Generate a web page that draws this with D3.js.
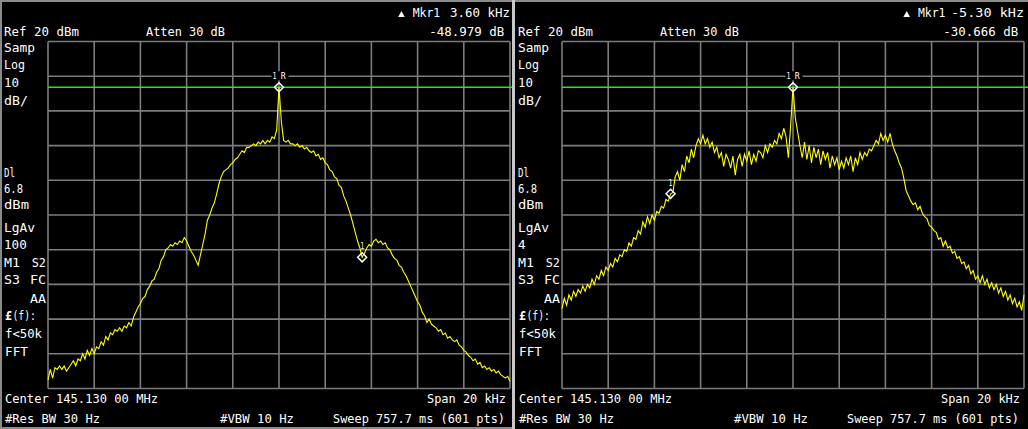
<!DOCTYPE html>
<html><head><meta charset="utf-8">
<script src="https://cdn.jsdelivr.net/npm/d3@7"></script>
<style>html,body{margin:0;padding:0;background:#000;}svg{display:block}</style>
</head><body><svg id="c" width="1028" height="429"></svg>
<script>
// ---- data (dBm readings, one every 0.1 kHz from -10 to +10 kHz) ----
const F_START = -10, F_STEP = 0.1;
const freqGridKHz = [-10,-8,-6,-4,-2,0,2,4,6,8,10];
const levelGridDbm = [20,10,0,-10,-20,-30,-40,-50,-60,-70,-80];
const displayLineDbm = 6.8;

const leftTrace = [
-77.5,-74.5,-77,-74,-74.5,-73.5,-74.5,-73.5,-75,-74,
-73,-72,-73.5,-71.5,-72,-70,-71.5,-69,-70.5,-68.5,
-70,-68,-68.5,-66.5,-67.5,-65,-66,-64,-64.5,-63,
-63.5,-62.5,-63.5,-62,-62.5,-61,-62,-59.5,-58,-56.5,
-55.5,-54,-53.5,-51.5,-50.5,-49,-48.5,-46.5,-45.5,-43,
-42,-40,-39.5,-38.5,-39,-38,-38.5,-37.5,-38,-36.5,
-37.5,-39,-40.5,-41.5,-43,-44.5,-41.5,-38.5,-35.5,-31.5,
-30,-28,-26.5,-24,-21,-19,-17.5,-17,-16.5,-15.5,
-15,-14,-13.5,-12.5,-11.5,-12,-10.5,-10.5,-10,-9.5,
-10,-9,-9.5,-8.5,-9.5,-8.5,-9,-7.5,-8,-5.5,
6.8,-3,-8.5,-9,-8.5,-9.5,-9.5,-10,-9.5,-10.5,
-10,-11,-10.5,-11.5,-12,-11.5,-13,-12.5,-14,-13.5,
-15,-15.5,-17,-17.5,-19,-19.5,-21.5,-22,-24.5,-26,
-28,-30,-32.5,-35,-37.5,-39.5,-42.2,-41,-39.5,-38.5,
-39,-37.5,-37,-38,-37.5,-38.5,-38,-39.5,-40,-41.5,
-42.5,-43,-44.5,-45,-46.5,-47.5,-49,-50.5,-52,-53.5,
-55,-56,-58,-59,-61,-60,-61.5,-62,-62.5,-63.5,
-63,-64.5,-64,-65.5,-65,-66,-66.5,-66,-67.5,-68,
-69,-69.5,-70.5,-71,-72,-71.5,-73,-72.5,-74,-73.5,
-74.5,-74,-75,-74.5,-75.5,-75,-76,-76.5,-77,-76.5,
-78];

const rightTrace = [
-57,-54,-56,-53,-54.5,-52,-53.5,-51.5,-52.5,-50.5,
-52,-50,-51,-48.5,-50,-47.5,-48.5,-46,-47.5,-45,
-46,-44,-45,-42.5,-43.5,-41.5,-42,-40,-40.5,-38,
-39,-36.5,-37,-34.5,-35.5,-32,-33.5,-30.5,-32.5,-30,
-31.5,-29,-29.5,-27.5,-28,-25.5,-26,-23.9,-23.5,-19,
-17.5,-20,-15.5,-17.5,-13,-15,-11,-13.5,-10,-8,
-9.5,-7,-9.5,-8,-10.5,-9,-12,-10.5,-13.5,-12,
-16,-12.5,-14,-16.5,-13,-18.5,-14,-12.5,-16,-12.5,
-14.5,-11.5,-15.5,-12.5,-14.5,-11.5,-12,-13.5,-10,-12,
-9.5,-10.5,-8.5,-9.5,-6.5,-8,-5,-7.5,-13.5,-4,
6.8,-2,-6,-10,-13.5,-9,-14,-10,-15,-10.5,
-13.5,-11,-15.5,-11.5,-14,-12,-16.5,-13,-15.5,-13.5,
-17,-14.5,-16.5,-13.5,-15.5,-13,-17.5,-13.5,-15.5,-12,
-14,-12,-13,-11,-11.5,-10,-8.5,-9.5,-6.5,-8.5,
-7,-9,-6.5,-9.5,-11.5,-13,-15,-16.5,-19.5,-23,
-24.5,-26,-27,-26.5,-28.5,-27.5,-29.5,-30.5,-31,-33,
-33.5,-34.5,-35,-37,-36.5,-39,-37.5,-39.5,-39,-41,
-40.5,-42.5,-42,-44,-43.5,-45.5,-44.5,-47,-46,-48.5,
-47.5,-49.5,-47.5,-50,-48.5,-51,-49.5,-51.5,-50,-52.5,
-51,-53.5,-52,-54.5,-53,-55.5,-54,-56.5,-55,-57.5,
-53];

const markerFreqKHz = [3.60, -5.30];
const markerFreqText = ["3.60 kHz", "-5.30 kHz"];
const markerDeltaText = ["-48.979 dB", "-30.666 dB"];
const avgCountText = ["100", "4"];
const traces = [leftTrace, rightTrace];

// ---- drawing ----
const svg = d3.select('#c');
svg.append('rect').attr('width',1028).attr('height',429).attr('fill','#000');
const FONT = "'DejaVu Sans Mono', monospace";

function txt(g, x, y, s, len, anchor, size) {
  const t = g.append('text').attr('x',x).attr('y',y).attr('fill','#fff')
    .attr('font-family',FONT).attr('font-size',size||12.5)
    .attr('text-anchor',anchor||'start').text(s);
  if (len) t.attr('textLength',len).attr('lengthAdjust','spacingAndGlyphs');
  return t;
}

// frame
svg.append('rect').attr('x',0).attr('y',0).attr('width',1028).attr('height',2).attr('fill','#8a8a8a');
svg.append('rect').attr('x',0).attr('y',0).attr('width',2).attr('height',429).attr('fill','#8a8a8a');
svg.append('rect').attr('x',0).attr('y',427).attr('width',514).attr('height',2).attr('fill','#8a8a8a');
svg.append('rect').attr('x',512).attr('y',0).attr('width',3).attr('height',429).attr('fill','#c8c8c8');

[0,1].forEach(p => {
  const ox = p * 514;
  const g = svg.append('g');
  const x = d3.scaleLinear().domain([-10,10]).range([ox+48, ox+510]);
  const y = d3.scaleLinear().domain([-80,20]).range([388.5, 41.5]);

  // grid
  g.selectAll('line.v').data(freqGridKHz).enter().append('line')
    .attr('x1',d=>x(d)).attr('x2',d=>x(d)).attr('y1',y(20)).attr('y2',y(-80))
    .attr('stroke','#7c7c7c').attr('stroke-width',1.6);
  g.selectAll('line.h').data(levelGridDbm).enter().append('line')
    .attr('x1',x(-10)).attr('x2',x(10)).attr('y1',d=>y(d)).attr('y2',d=>y(d))
    .attr('stroke','#7c7c7c').attr('stroke-width',1.6);

  // display line
  g.append('line').attr('x1',x(-10)).attr('x2', p===0 ? 512 : 1028)
    .attr('y1',y(displayLineDbm)).attr('y2',y(displayLineDbm))
    .attr('stroke','#00ff00').attr('stroke-width',1.4);

  // trace
  const tr = traces[p];
  const line = d3.line().x((d,i)=>x(F_START + i*F_STEP)).y(d=>y(d));
  g.append('path').datum(tr).attr('d',line).attr('fill','none')
    .attr('stroke','#ffff00').attr('stroke-width',1.1);

  // markers
  const idx = f => Math.round((f - F_START)/F_STEP);
  function diamond(cx, cy) {
    g.append('path').attr('d',`M${cx},${cy-4.5}L${cx+4.5},${cy}L${cx},${cy+4.5}L${cx-4.5},${cy}Z`)
      .attr('fill','none').attr('stroke','#fff').attr('stroke-width',1.5);
  }
  const rx = x(0), ry = y(tr[idx(0)]);
  g.append('rect').attr('x',rx-7.5).attr('y',ry-16).attr('width',17).attr('height',9).attr('fill','#000');
  txt(g, rx-6.5, ry-8.5, '1', 4, 'start', 8);
  txt(g, rx+1.8, ry-8.5, 'R', 5, 'start', 8);
  diamond(rx, ry);
  const mf = markerFreqKHz[p];
  const mx = x(mf), my = y(tr[idx(mf)]);
  txt(g, mx, my-8, '1', 4, 'middle', 8);
  diamond(mx, my);

  // header text
  txt(g, ox+4, 36, 'Ref 20 dBm', 75);
  txt(g, ox+146, 36, 'Atten 30 dB', 79);
  const mkrX = p===0 ? ox+412.7 : ox+404;
  g.append('path').attr('d',`M${mkrX-11.2},11 L${mkrX-8},17 L${mkrX-14.6},17Z`).attr('fill','#fff');
  txt(g, mkrX, 17, 'Mkr1', 27.5);
  txt(g, ox+510, 17, markerFreqText[p], p===0 ? 60 : 73, 'end');
  txt(g, ox+504.3, 36, markerDeltaText[p], 75, 'end');

  // left column
  txt(g, ox+4, 52, 'Samp', 31);
  txt(g, ox+4, 69, 'Log', 21);
  txt(g, ox+4, 87, '10', 15);
  txt(g, ox+4, 105, 'dB/', 24);
  txt(g, ox+4, 177, 'Dl', 11);
  txt(g, ox+4, 193, '6.8', 19);
  txt(g, ox+4, 209, 'dBm', 25);
  txt(g, ox+4, 232, 'LgAv', 31);
  txt(g, ox+4, 249, avgCountText[p], avgCountText[p].length*7.6);
  txt(g, ox+4, 267, 'M1', 16);
  txt(g, ox+31.7, 267, 'S2', 14.3);
  txt(g, ox+4, 284, 'S3', 16);
  txt(g, ox+30, 284, 'FC', 16);
  txt(g, ox+30, 303, 'AA', 16);
  txt(g, ox+5, 320, '£', 7).attr('font-weight','bold');
  txt(g, ox+12.5, 320, '(f):', 23.5);
  txt(g, ox+5, 338, 'f<50k', 37);
  txt(g, ox+5, 356, 'FFT', 23);

  // footer
  txt(g, ox+5, 403, 'Center 145.130 00 MHz', 153);
  txt(g, ox+506, 403, 'Span 20 kHz', 79, 'end');
  txt(g, ox+5, 423, '#Res BW 30 Hz', 95);
  txt(g, ox+220, 423, '#VBW 10 Hz', 74);
  txt(g, ox+333, 423, 'Sweep 757.7 ms (601 pts)', 172);
});
</script></body></html>
